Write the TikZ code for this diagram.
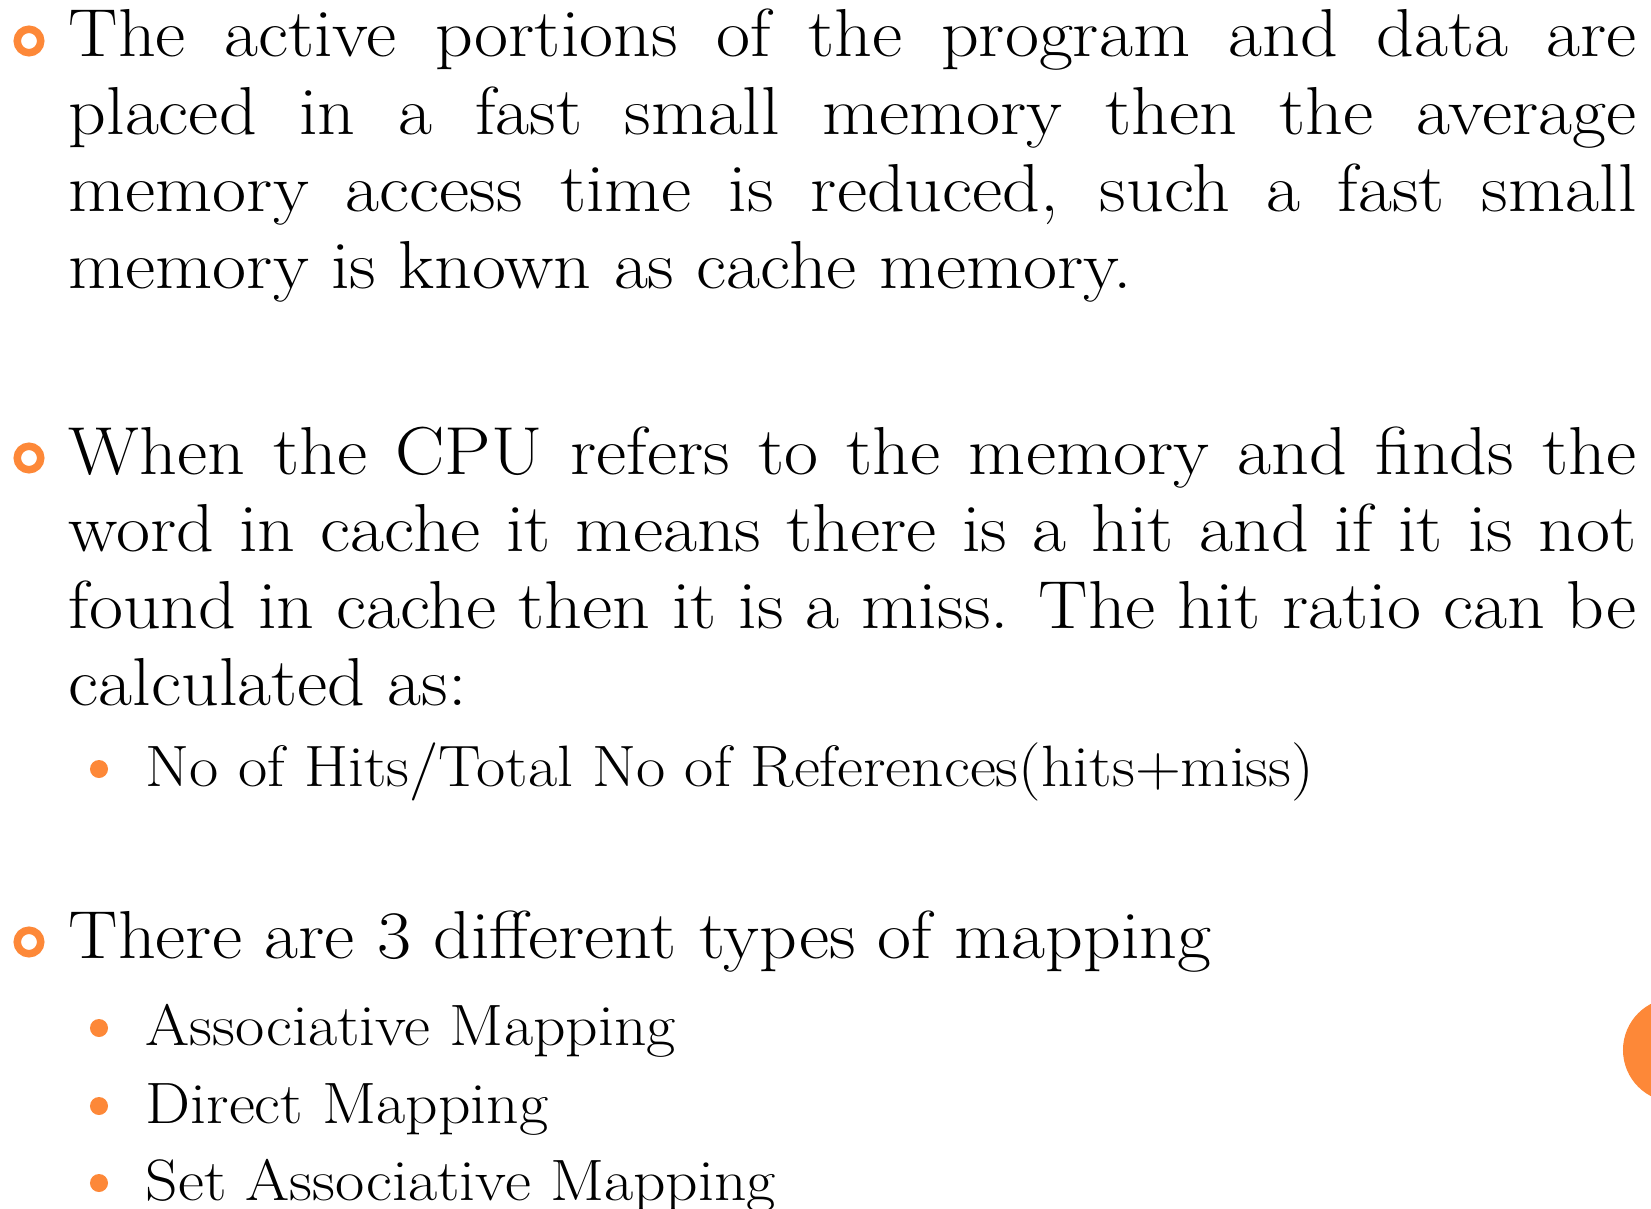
\documentclass[tikz,border=0pt]{standalone}
\usepackage{xcolor}
\usepackage{fontspec}
\setmainfont{Latin Modern Roman}[FakeStretch=1.09]
\definecolor{slideorange}{HTML}{FD8838}
\newcommand{\fullline}[1]{\makebox[15.67cm][s]{#1}}
\newcommand{\bigtext}{\fontsize{19.3}{22}\selectfont}
\newcommand{\smalltext}{\fontsize{16.6}{20}\selectfont}
\begin{document}
\begin{tikzpicture}[x=0.01cm,y=-0.01cm,
    ring/.style={circle,draw=slideorange,line width=0.075cm,minimum size=0.235cm,inner sep=0pt},
    dot/.style={circle,fill=slideorange,minimum size=0.18cm,inner sep=0pt},
    txt/.style={anchor=base west,inner sep=0pt,font=\bigtext},
    subtxt/.style={anchor=base west,inner sep=0pt,font=\smalltext}]
  \useasboundingbox (0,0) rectangle (1651,1209);
  \clip (0,0) rectangle (1651,1209);
  % first point
  \node[ring] (r1) at (29,41) {};
  \node[txt] (p1a) at (68,57) {\fullline{The active portions of the program and data are}};
  \node[txt] (p1b) at (68,134) {\fullline{placed in a fast small memory then the average}};
  \node[txt] (p1c) at (68,211) {\fullline{memory access time is reduced, such a fast small}};
  \node[txt] (p1d) at (68,288) {memory is known as cache memory.};
  % second point
  \node[ring] (r2) at (29,458) {};
  \node[txt] (p2a) at (68,474) {\fullline{When the CPU refers to the memory and finds the}};
  \node[txt] (p2b) at (68,551) {\fullline{word in cache it means there is a hit and if it is not}};
  \node[txt] (p2c) at (68,628) {\fullline{found in cache then it is a miss. The hit ratio can be}};
  \node[txt] (p2d) at (68,705) {calculated as:};
  \node[dot] (d1) at (99,769) {};
  \node[subtxt] (s1) at (145,786) {No of Hits/Total No of References(hits+miss)};
  % third point
  \node[ring] (r3) at (29,942) {};
  \node[txt] (p3a) at (68,958) {There are 3 different types of mapping};
  \node[dot] (d2) at (99,1028) {};
  \node[subtxt] (s2) at (145,1045) {Associative Mapping};
  \node[dot] (d3) at (99,1106) {};
  \node[subtxt] (s3) at (145,1123) {Direct Mapping};
  \node[dot] (d4) at (99,1183) {};
  \node[subtxt] (s4) at (145,1200) {Set Associative Mapping};
  % page marker
  \fill[slideorange] (1675,1050) circle[radius=0.52cm];
\end{tikzpicture}
\end{document}
